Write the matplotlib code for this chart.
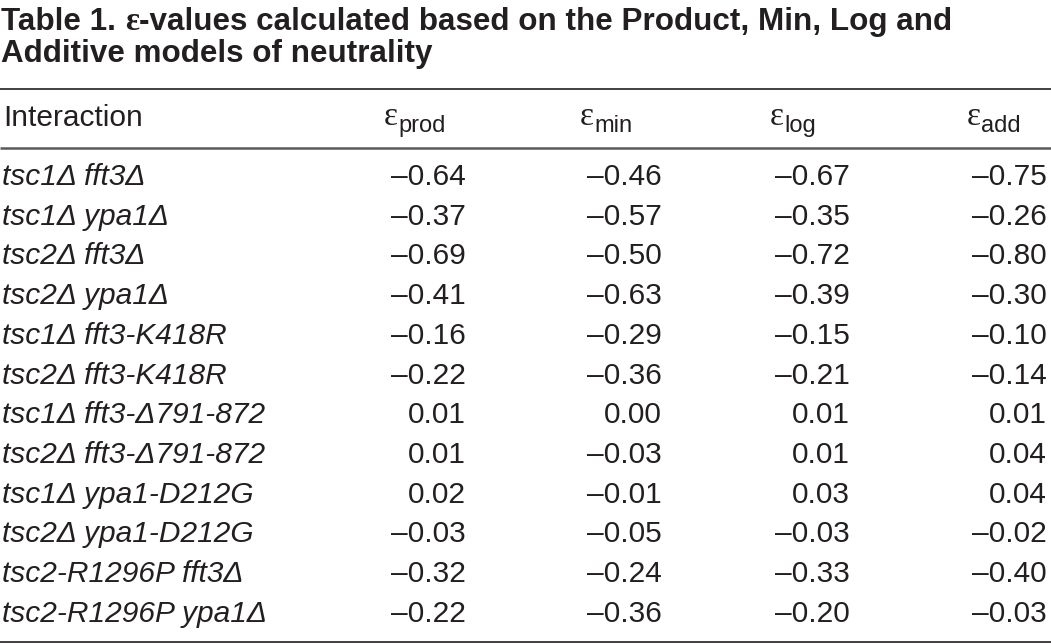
import matplotlib
matplotlib.use("Agg")
import matplotlib.pyplot as plt

# ---------------- data ----------------
title_line1_a = "Table 1. "
title_eps = "\u03b5"
title_line1_b = "-values calculated based on the Product, Min, Log and"
title_line2 = "Additive models of neutrality"

row_header = "Interaction"
col_subscripts = ["prod", "min", "log", "add"]

interactions = [
    "tsc1\u0394 fft3\u0394",
    "tsc1\u0394 ypa1\u0394",
    "tsc2\u0394 fft3\u0394",
    "tsc2\u0394 ypa1\u0394",
    "tsc1\u0394 fft3-K418R",
    "tsc2\u0394 fft3-K418R",
    "tsc1\u0394 fft3-\u0394791-872",
    "tsc2\u0394 fft3-\u0394791-872",
    "tsc1\u0394 ypa1-D212G",
    "tsc2\u0394 ypa1-D212G",
    "tsc2-R1296P fft3\u0394",
    "tsc2-R1296P ypa1\u0394",
]
eps_prod = [-0.64, -0.37, -0.69, -0.41, -0.16, -0.22, 0.01, 0.01, 0.02, -0.03, -0.32, -0.22]
eps_min = [-0.46, -0.57, -0.50, -0.63, -0.29, -0.36, 0.00, -0.03, -0.01, -0.05, -0.24, -0.36]
eps_log = [-0.67, -0.35, -0.72, -0.39, -0.15, -0.21, 0.01, 0.01, 0.03, -0.03, -0.33, -0.20]
eps_add = [-0.75, -0.26, -0.80, -0.30, -0.10, -0.14, 0.01, 0.04, 0.04, -0.02, -0.40, -0.03]
columns = [eps_prod, eps_min, eps_log, eps_add]

# ---------------- layout ----------------
W, H = 1051, 644
fig = plt.figure(figsize=(W / 100, H / 100), dpi=100)
ax = fig.add_axes([0, 0, 1, 1])
ax.set_xlim(0, W)
ax.set_ylim(H, 0)
ax.axis("off")
renderer = fig.canvas.get_renderer()

SANS = "Liberation Sans"
SERIF = "Liberation Serif"
TXT = "#231f20"
TITLE_FS = 22.6
BODY_FS = 21.5


def run(x, y, s, **kw):
    t = ax.text(x, y, s, va="baseline", ha="left", color=TXT, **kw)
    bb = t.get_window_extent(renderer)
    return x + bb.width


def fmt(v):
    s = f"{v:.2f}"
    return s.replace("-", "\u2013")


# title
x = run(1, 30, title_line1_a, family=SANS, weight="bold", fontsize=TITLE_FS)
x = run(x, 30, title_eps, family=SERIF, weight="bold", fontsize=TITLE_FS + 1)
run(x, 30, title_line1_b, family=SANS, weight="bold", fontsize=TITLE_FS)
run(1, 62, title_line2, family=SANS, weight="bold", fontsize=TITLE_FS)

# rules
ax.plot([0, W], [89, 89], color="#231f20", lw=1.2, solid_capstyle="butt")
ax.plot([0, W], [147.5, 147.5], color="#5a5a5a", lw=1.8, solid_capstyle="butt")
ax.plot([0, W], [642, 642], color="#231f20", lw=1.2, solid_capstyle="butt")

# header
run(3, 126, row_header, family=SANS, fontsize=BODY_FS)
header_x = [384, 580, 770, 967]
for hx, sub in zip(header_x, col_subscripts):
    xx = run(hx, 125, "\u03b5", family=SERIF, fontsize=24)
    run(xx, 132, sub, family=SANS, fontsize=17)

# body
right_x = [466, 662, 850, 1047]
y0 = 185
dy = 39.7
for i, name in enumerate(interactions):
    y = y0 + i * dy
    ax.text(2, y, name, family=SANS, style="italic", fontsize=BODY_FS,
            va="baseline", ha="left", color=TXT)
    for rx, col in zip(right_x, columns):
        ax.text(rx, y, fmt(col[i]), family=SANS, fontsize=BODY_FS,
                va="baseline", ha="right", color=TXT)

fig.savefig("out.png", dpi=100)
